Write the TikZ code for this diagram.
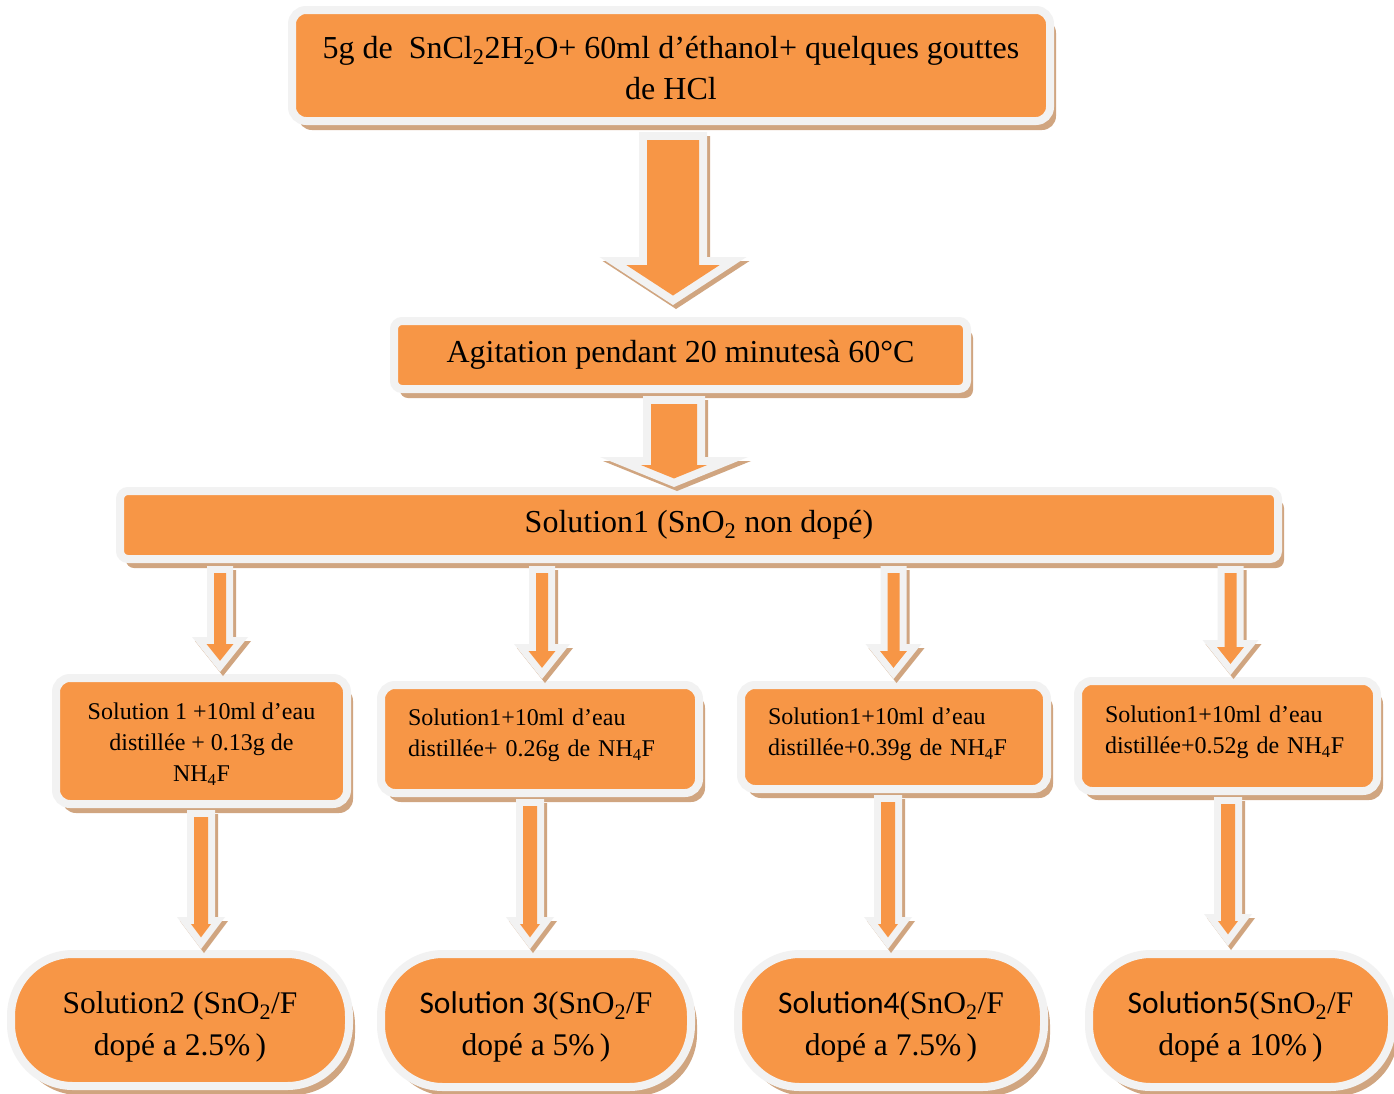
\documentclass[tikz,border=0pt]{standalone}
\usepackage{fontspec}
\setmainfont{Liberation Serif}
\newfontfamily\carl{Carlito}
\usetikzlibrary{shadows}
\definecolor{orng}{HTML}{F79646}
\definecolor{brdr}{HTML}{F2F2F2}
\definecolor{shd}{HTML}{D0A580}
\newdimen\bdA
\newdimen\bdB
% #1 x, #2 from node, #3 to node, #4 top gap, #5 bottom gap, #6 head length, #7 shaft half, #8 wing half, #9 border
\newcommand\blockarrow[9]{%
  \pgfextracty{\bdA}{\pgfpointanchor{#2}{south}}%
  \pgfextracty{\bdB}{\pgfpointanchor{#3}{north}}%
  \pgfmathsetmacro\bT{-\bdA+#4}%
  \pgfmathsetmacro\bP{-\bdB-#5}%
  \pgfmathsetmacro\bB{\bP-#6}%
  \pgfmathsetmacro\bk{#9*sqrt(1/(#8*#8)+1/(#6*#6))}%
  \pgfmathsetmacro\iw{#8*(1-\bk-#9/#6)}%
  \pgfmathsetmacro\iP{\bB+#6*(1-\bk)}%
  \pgfmathsetmacro\is{#7-#9}%
  \pgfmathsetmacro\iT{\bT+#9}%
  \pgfmathsetmacro\iB{\bB+#9}%
  \fill[shd,shift={(3,4)}] (#1-#7,\bT) -- (#1+#7,\bT) -- (#1+#7,\bB) -- (#1+#8,\bB) -- (#1,\bP) -- (#1-#8,\bB) -- (#1-#7,\bB) -- cycle;
  \fill[brdr] (#1-#7,\bT) -- (#1+#7,\bT) -- (#1+#7,\bB) -- (#1+#8,\bB) -- (#1,\bP) -- (#1-#8,\bB) -- (#1-#7,\bB) -- cycle;
  \fill[orng] (#1-\is,\iT) -- (#1+\is,\iT) -- (#1+\is,\iB) -- (#1+\iw,\iB) -- (#1,\iP) -- (#1-\iw,\iB) -- (#1-\is,\iB) -- cycle;
}
\newcommand\upstrut[1]{\rule{0pt}{#1}}
\newcommand\dnstrut[1]{\rule[-#1]{0pt}{0pt}}
\tikzset{
  box/.style={draw=brdr, fill=orng, line width=8pt, rounded corners=#1,
    drop shadow={shadow xshift=6pt, shadow yshift=-9pt, fill=shd, opacity=1},
    inner sep=0pt, text=black},
  box/.default=14pt,
  bigtxt/.style={font=\fontsize{32}{41}\selectfont},
  midtxt/.style={font=\fontsize{24}{31}\selectfont},
  bottxt/.style={font=\fontsize{31.5}{42}\selectfont},
}
\begin{document}
\begin{tikzpicture}[x=1pt,y=-1pt]
\useasboundingbox (0,0) rectangle (1394,1093);
\fill[white] (0,0) rectangle (1394,1093);

\node[box, bigtxt, minimum width=758, minimum height=111, align=center] (top) at (671,65.5)
  {\upstrut{27pt}5g de\ \ SnCl\textsubscript{2}2H\textsubscript{2}O+ 60ml d’éthanol+ quelques gouttes\\de HCl};
\node[box=8pt, bigtxt, minimum width=573, minimum height=68] (agit) at (680.5,355)
  {Agitation pendant 20 minutesà 60°C};
\node[box=8pt, bigtxt, minimum width=1158, minimum height=68] (sol1) at (699,525)
  {Solution1 (SnO\textsubscript{2} non dopé)};

\node[box, midtxt, minimum width=291, minimum height=126, align=center] (ma) at (201.5,741)
  {\upstrut{22.5pt}Solution 1 +10ml d’eau\\distillée + 0.13g de\\NH\textsubscript{4}F};
\node[box, midtxt, minimum width=318, minimum height=108, text width=264, align=left] (mb) at (540,739)
  {\mbox{Solution1+10ml d’eau}\\\mbox{distillée+ 0.26g de NH\textsubscript{4}F\dnstrut{12pt}}};
\node[box, midtxt, minimum width=306, minimum height=104, text width=252, align=left] (mc) at (894,737)
  {\mbox{Solution1+10ml d’eau}\\\mbox{distillée+0.39g de NH\textsubscript{4}F\dnstrut{11pt}}};
\node[box, midtxt, minimum width=299, minimum height=110, text width=245, align=left] (md) at (1227.5,736)
  {\mbox{Solution1+10ml d’eau}\\\mbox{distillée+0.52g de NH\textsubscript{4}F\dnstrut{12pt}}};

\node[box=62pt, bottxt, minimum width=338, minimum height=132, align=center] (ba) at (180,1020)
  {\upstrut{35pt}Solution2 (SnO\textsubscript{2}/F\\dopé a 2.5\%\,)};
\node[box=62pt, bottxt, minimum width=310, minimum height=133, align=center] (bb) at (536,1020.5)
  {\upstrut{35pt}{\carl Solution 3}(SnO\textsubscript{2}/F\\dopé a 5\%\,)};
\node[box=62pt, bottxt, minimum width=306, minimum height=133, align=center] (bc) at (891,1020.5)
  {\upstrut{35pt}{\carl Solution4}(SnO\textsubscript{2}/F\\dopé a 7.5\%\,)};
\node[box=62pt, bottxt, minimum width=303, minimum height=133, align=center] (bd) at (1240.5,1020.5)
  {\upstrut{35pt}{\carl Solution5}(SnO\textsubscript{2}/F\\dopé a 10\%\,)};

\blockarrow{673}{top}{agit}{7}{12}{48}{34}{73.5}{8}
\blockarrow{674}{agit}{sol1}{3}{0}{30}{31}{74}{8}

\blockarrow{220}{sol1}{ma}{3}{2}{35}{13}{28}{7}
\blockarrow{542}{sol1}{mb}{3}{2}{35}{13}{28}{7}
\blockarrow{893.5}{sol1}{mc}{3}{2}{35}{13}{28}{7}
\blockarrow{1230.5}{sol1}{md}{3}{2}{35}{13}{28}{7}

\blockarrow{201}{ma}{ba}{2}{1}{32}{14}{24}{7}
\blockarrow{530}{mb}{bb}{2}{1}{32}{14}{24}{7}
\blockarrow{888}{mc}{bc}{2}{1}{32}{14}{24}{7}
\blockarrow{1228}{md}{bd}{2}{4}{32}{14}{24}{7}
\end{tikzpicture}
\end{document}
